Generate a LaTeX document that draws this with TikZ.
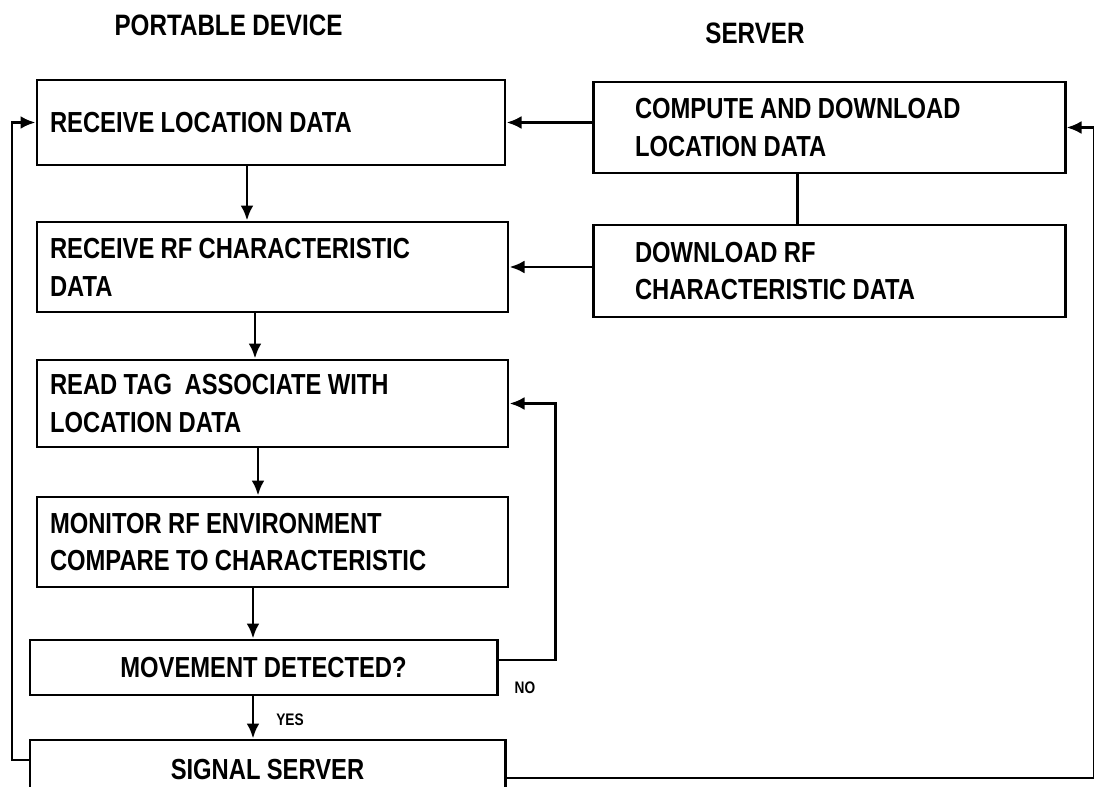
\documentclass[tikz,border=0pt]{standalone}
\usepackage{fontspec}
\setmainfont{Liberation Sans}[FakeStretch=0.82, WordSpace=0.95]
\usetikzlibrary{arrows.meta,positioning,calc}

\begin{document}
\begin{tikzpicture}[>={Latex[length=3mm,width=2.6mm]},
    box/.style={rectangle, draw, line width=1.7pt, fill=white, align=flush left, inner xsep=0.26cm, font=\fontsize{16.5}{21.5}\selectfont\bfseries},
    srvbox/.style={box, inner xsep=0.84cm, text width=7.76cm, minimum height=1.82cm},
    arrow/.style={->, line width=1.7pt},
    link/.style={line width=1.7pt},
    title/.style={font=\fontsize{16.8}{18}\selectfont\bfseries},
    answer/.style={font=\fontsize{9.5}{11}\selectfont\bfseries}]

    \path[use as bounding box, fill=white] (0,0) rectangle (21.88,-15.74);

    % Column titles
    \node[title] (devtitle) at (4.57,-0.5) {PORTABLE DEVICE};
    \node[title] (srvtitle) at (15.1,-0.66) {SERVER};

    % Portable device steps
    \node[box, text width=8.84cm, minimum height=1.70cm] (loc) at (5.42,-2.45) {RECEIVE LOCATION DATA};
    \node[box, text width=8.90cm, minimum height=1.80cm] (rfrx) at (5.45,-5.34) {RECEIVE RF CHARACTERISTIC\\DATA};
    \node[box, text width=8.90cm, minimum height=1.74cm] (tag) at (5.45,-8.07) {READ TAG\ \ ASSOCIATE WITH\\LOCATION DATA};
    \node[box, text width=8.90cm, minimum height=1.80cm] (mon) at (5.45,-10.84) {MONITOR RF ENVIRONMENT\\COMPARE TO CHARACTERISTIC};
    \node[box, align=flush center, text width=8.82cm, minimum height=1.10cm] (move) at (5.27,-13.35) {MOVEMENT DETECTED?};
    \node[box, align=flush center, text width=8.98cm, minimum height=1.20cm] (sig) at (5.35,-15.4) {SIGNAL SERVER};

    % Server steps
    \node[srvbox] (comp) at (16.58,-2.55) {COMPUTE AND DOWNLOAD\\LOCATION DATA};
    \node[srvbox, minimum height=1.84cm] (rfdl) at (16.58,-5.42) {DOWNLOAD RF\\CHARACTERISTIC DATA};

    % Rails for the loops
    \coordinate (leftrail) at (0.24,0);
    \coordinate (noloop) at (11.1,0);
    \coordinate (rightrail) at (21.88,0);

    % Device flow
    \draw[arrow] ([xshift=-4.8mm]loc.south) -- ([xshift=-4.8mm]loc.south |- rfrx.north);
    \draw[arrow] ([xshift=-3.5mm]rfrx.south) -- ([xshift=-3.5mm]rfrx.south |- tag.north);
    \draw[arrow] ([xshift=-2.9mm]tag.south) -- ([xshift=-2.9mm]tag.south |- mon.north);
    \draw[arrow] ([xshift=-3.9mm]mon.south) -- ([xshift=-3.9mm]mon.south |- move.north);
    \draw[arrow] ([xshift=-2.1mm]move.south) -- ([xshift=-2.1mm]move.south |- sig.north);

    % Server to device
    \draw[arrow] (comp.west |- loc.east) -- (loc.east);
    \draw[arrow] (rfdl.west |- rfrx.east) -- (rfrx.east);
    \draw[link] ([xshift=-6.4mm]comp.south) -- ([xshift=-6.4mm]comp.south |- rfdl.north);

    % Decision branches
    \draw[arrow] ([yshift=1.5mm]move.east) -| (noloop |- tag.east) -- (tag.east);
    \node[answer] (no) at (10.5,-13.76) {NO};
    \node[answer] (yes) at (5.8,-14.4) {YES};

    % Loops back
    \draw[arrow] ([yshift=2mm]sig.west) -| (leftrail |- loc.west) -- (loc.west);
    \draw[arrow] ([yshift=-1.6mm]sig.east) -| (rightrail |- comp.east) -- (comp.east);

\end{tikzpicture}
\end{document}
